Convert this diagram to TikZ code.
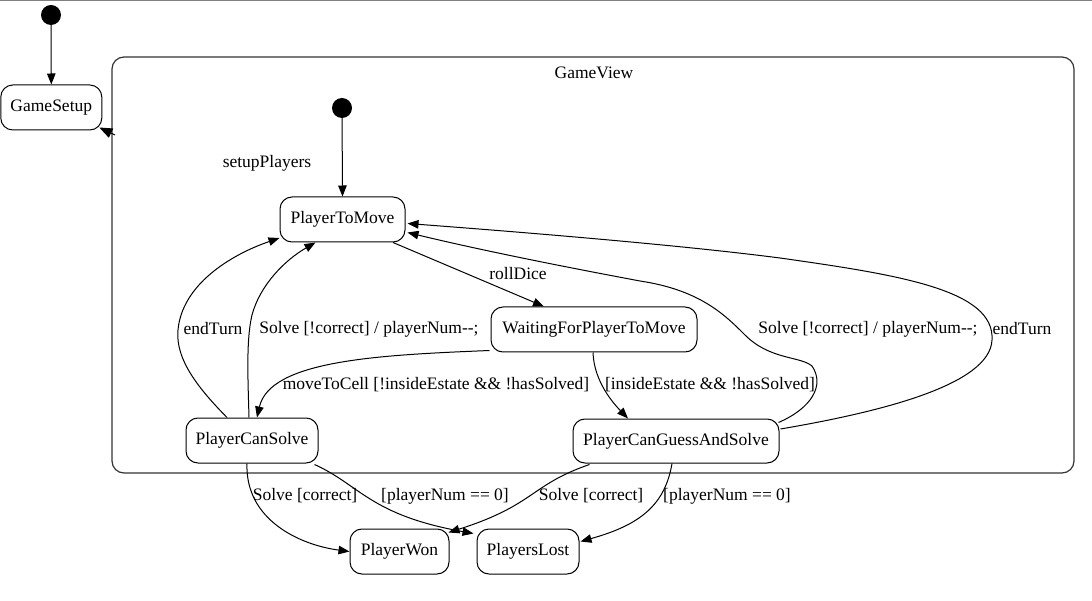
\documentclass[tikz,border=0pt]{standalone}
\usepackage{fontspec}
\setmainfont{Liberation Serif}
\usetikzlibrary{arrows.meta,calc}
\newcommand\lblfont{\fontsize{17.5}{21}\selectfont}
\begin{document}
\begin{tikzpicture}[x=1pt,y=-1pt,
  st/.style={draw, line width=1pt, rounded corners=12pt, minimum height=45pt, inner sep=0pt, font=\lblfont},
  lbl/.style={inner sep=0pt, font=\lblfont},
  initdot/.style={circle, fill=black, inner sep=0pt, minimum size=20pt},
  edge/.style={line width=1pt, -{Triangle[length=11pt,width=8.5pt]}},
  clusterbox/.style={draw=black!80, line width=1.2pt, rounded corners=12pt}
]
\useasboundingbox (0,0) rectangle (1092,601);
\fill[white] (0,0) rectangle (1092,601);
\draw[gray, line width=1pt] (0,0.5) -- (1092,0.5);

% cluster
\draw[clusterbox] (112,57) rectangle (1074,473);
\node[lbl] (gvlabel) at (594,73) {GameView};
\coordinate (gvL) at (115,135);

% nodes
\node[initdot] (i1) at (51,15) {};
\node[st, minimum width=101pt] (gs) at (51.3,107.5) {GameSetup};
\node[initdot] (i2) at (342,108) {};
\node[st, minimum width=125pt] (ptm) at (342.5,219.5) {PlayerToMove};
\node[st, minimum width=206pt] (wait) at (594,329.5) {WaitingForPlayerToMove};
\node[st, minimum width=132pt] (pcs) at (252,440.5) {PlayerCanSolve};
\node[st, minimum width=206pt, minimum height=44pt] (pcgs) at (676,441) {PlayerCanGuessAndSolve};
\node[st, minimum width=99pt] (pw) at (399.5,551.5) {PlayerWon};
\node[st, minimum width=102pt] (pl) at (528,551.5) {PlayersLost};

% edges
\draw[edge] (i1) -- (gs.north);
\draw[edge] (i2) -- (ptm.north);
\draw[line width=1pt, -{Triangle[length=13pt,width=10pt]}] (gvL) -- ($(gs.south east)+(-3,-3)$);
\node[lbl] (setupl) at (267,163) {setupPlayers};

\draw[edge] ($(ptm.south)+(50.5,0)$) -- ($(wait.north)+(-50,0)$);
\node[lbl] (rolll) at (518,274) {rollDice};

\draw[edge] ($(wait.south west)+(-1,-2)$) .. controls (380,355) and (270,360) .. ($(pcs.north)+(5,0)$);
\node[lbl] (movel) at (436,385) {moveToCell [!insideEstate \&\& !hasSolved]};

\draw[edge] ($(wait.south)+(-1,0)$) .. controls (594,382) and (614,404) .. ($(pcgs.north)+(-48,0)$);
\node[lbl] (insidel) at (710,385) {[insideEstate \&\& !hasSolved]};

\draw[edge] ($(pcs.north)+(-25,0)$) .. controls (200,390) and (175,360) .. (178,330)
  .. controls (182,285) and (230,255) .. ($(ptm.west)+(0,18.5)$);
\node[lbl] (endl1) at (213,329) {endTurn};

\draw[edge] ($(pcs.north)+(-3,0)$) .. controls (248,380) and (246,340) .. (252,315)
  .. controls (260,285) and (285,260) .. ($(ptm.south)+(-27,0)$);
\node[lbl] (solvel1) at (369,329) {Solve [!correct] / playerNum-{}-;};

\draw[edge] ($(pcgs.north east)+(-1,4)$) .. controls (812,408) and (825,385) .. (812,366)
  .. controls (800,356) and (770,360) .. (745,335)
  .. controls (725,315) and (700,290) .. (640,281)
  .. controls (560,266) and (480,250) .. ($(ptm.east)+(2,13)$);
\node[lbl] (solvel2) at (868,329) {Solve [!correct] / playerNum-{}-;};

\draw[edge] ($(pcgs.east)+(1,-12)$) .. controls (880,412) and (990,385) .. (992,340)
  .. controls (995,290) and (900,275) .. (780,258)
  .. controls (680,245) and (520,232) .. ($(ptm.east)+(2,4)$);
\node[lbl] (endl2) at (1022,329) {endTurn};

\draw[edge] ($(pcs.south)+(-5,0)$) .. controls (245,520) and (300,545) .. (pw.west);
\node[lbl] (scl1) at (305,496) {Solve [correct]};

\draw[edge] ($(pcs.south east)+(-4,1)$) .. controls (360,485) and (370,515) .. ($(pl.north west)+(-3,5)$);
\node[lbl] (pnl1) at (445,496) {[playerNum == 0]};

\draw[edge] ($(pcgs.south west)+(17,1)$) .. controls (530,485) and (535,505) .. ($(pw.north east)+(-1,4)$);
\node[lbl] (scl2) at (591,496) {Solve [correct]};

\draw[edge] ($(pcgs.south)+(-4,0)$) .. controls (665,505) and (640,525) .. ($(pl.east)+(1,-10)$);
\node[lbl] (pnl2) at (727,496) {[playerNum == 0]};
\end{tikzpicture}
\end{document}
